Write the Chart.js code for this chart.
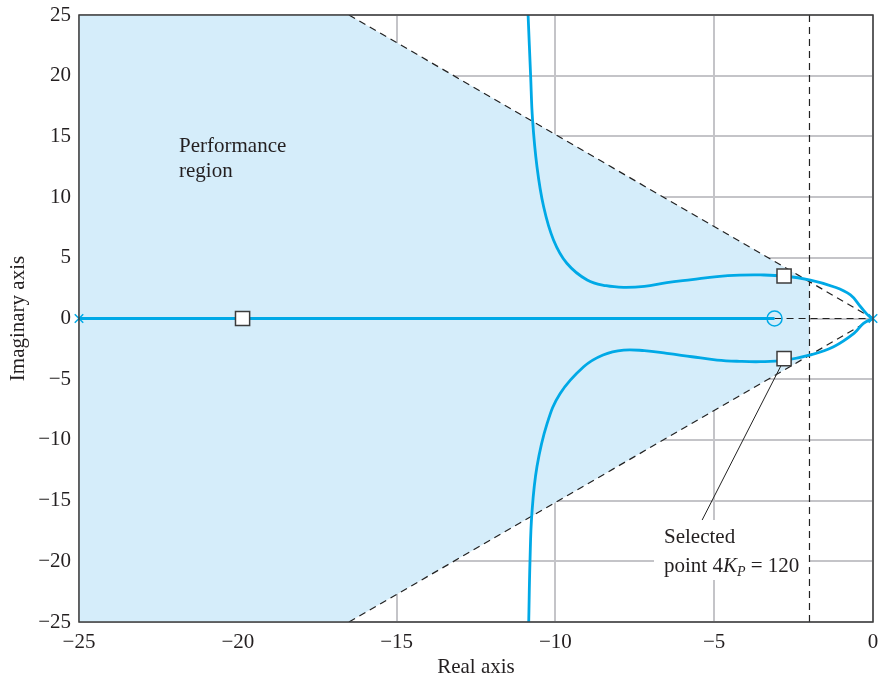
<!DOCTYPE html>
<html>
<head>
<meta charset="utf-8">
<script src="https://cdn.jsdelivr.net/npm/chart.js@4/dist/chart.umd.min.js"></script>
<style>
  html, body { margin: 0; padding: 0; background: #fff; }
  #wrap { width: 881px; height: 682px; }
</style>
</head>
<body>
<div id="wrap"><canvas id="locus"></canvas></div>
<script>
// axis ranges / ticks
const xRange = [-25, 0];
const yRange = [-25, 25];
const tickStep = 5;

// performance region boundary (light blue polygon)
const regionRe = [-25, -16.5, -2, -2, -16.5, -25, -25];
const regionIm = [25, 25, 3.03, -3.03, -25, -25, 25];

// dashed construction lines
const diagUpRe = [-16.5, 0], diagUpIm = [25, 0];
const diagLoRe = [-16.5, 0], diagLoIm = [-25, 0];
const vertRe = [-2, -2], vertIm = [25, -25];
const horizRe = [-3.1, 0], horizIm = [0, 0];

// root locus branches
const realBranchRe = [-25, -3.1], realBranchIm = [0, 0];
const upperRe = [-10.86, -10.78, -10.72, -10.58, -10.37, -10.06, -9.64, -9.0, -8.4, -7.85, -7.2, -6.49, -5.7, -4.91, -4.2, -3.55, -2.8, -1.97, -1.24, -0.71, -0.39, -0.13, 0];
const upperIm = [25, 20, 16.4, 12.5, 9.2, 6.47, 4.55, 3.17, 2.7, 2.57, 2.65, 2.95, 3.2, 3.45, 3.57, 3.59, 3.5, 3.17, 2.62, 1.94, 0.97, 0.2, 0];
const lowerRe = [-10.84, -10.8, -10.74, -10.58, -10.26, -9.85, -9.11, -8.5, -7.85, -7.2, -6.49, -5.7, -4.91, -4.2, -3.55, -2.8, -1.97, -1.24, -0.6, -0.3, 0];
const lowerIm = [-25, -20, -16.06, -12.2, -8.64, -6.17, -3.97, -3.0, -2.6, -2.65, -2.87, -3.15, -3.42, -3.53, -3.56, -3.45, -3.0, -2.32, -1.22, -0.4, 0];

// markers
const poleRe = [-25, 0], poleIm = [0, 0];
const zeroRe = [-3.1], zeroIm = [0];
const selRe = [-19.85, -2.8, -2.8], selIm = [0, 3.5, -3.3];

// leader line to the selected point
const leaderRe = [-5.38, -2.88], leaderIm = [-16.6, -3.8];

function pts(xs, ys) {
    return xs.map(function (x, i) { return {x: x, y: ys[i]}; });
}

const blue = '#00a9e6';
const ink = '#231f20';
const serif = 'Liberation Serif, Times New Roman, serif';
const dash = [7, 5];

function fmt(v) {
    return v < 0 ? '\u2212' + Math.abs(v) : String(v);
}

function noPad(s) {
    s.paddingLeft = 0; s.paddingRight = 0; s.paddingTop = 0; s.paddingBottom = 0;
}

const frame = {
    id: 'frame',
    beforeDatasetsDraw(chart) {
        const c = chart.ctx;
        // white box behind the annotation text
        c.save();
        c.fillStyle = '#fff';
        c.fillRect(654, 520, 156, 60);
        c.restore();
    },
    afterDraw(chart) {
        const c = chart.ctx;
        const a = chart.chartArea;
        c.save();
        c.strokeStyle = '#3c3c3c';
        c.lineWidth = 1.5;
        c.strokeRect(a.left, a.top, a.right - a.left, a.bottom - a.top);

        c.fillStyle = ink;
        c.textBaseline = 'alphabetic';
        c.font = '21px ' + serif;
        c.fillText('Performance', 179, 152);
        c.fillText('region', 179, 177);

        c.fillText('Selected', 664, 543);
        let px = 664;
        const base = 572;
        c.fillText('point 4', px, base);
        px += c.measureText('point 4').width;
        c.font = 'italic 21px ' + serif;
        c.fillText('K', px, base);
        px += c.measureText('K').width;
        c.font = 'italic 14px ' + serif;
        c.fillText('P', px, base + 4);
        px += c.measureText('P').width;
        c.font = '21px ' + serif;
        c.fillText(' = 120', px, base);
        c.restore();
    }
};

function lineSet(data, color, width, dashed, order, extra) {
    return Object.assign({
        data: data,
        showLine: true,
        borderColor: color,
        borderWidth: width,
        borderDash: dashed ? dash : [],
        pointRadius: 0,
        fill: false,
        order: order
    }, extra || {});
}

new Chart(document.getElementById('locus'), {
    type: 'scatter',
    data: {
        datasets: [
            lineSet(pts(regionRe, regionIm), 'rgba(0,0,0,0)', 0, false, 20,
                {fill: 'shape', backgroundColor: '#d5edfa', tension: 0}),
            lineSet(pts(diagUpRe, diagUpIm), '#222', 1.2, true, 10),
            lineSet(pts(diagLoRe, diagLoIm), '#222', 1.2, true, 10),
            lineSet(pts(vertRe, vertIm), '#222', 1.2, true, 10),
            lineSet(pts(horizRe, horizIm), '#222', 1.2, true, 10),
            lineSet(pts(leaderRe, leaderIm), '#222', 1, false, 9),
            lineSet(pts(realBranchRe, realBranchIm), blue, 2.8, false, 5),
            lineSet(pts(upperRe, upperIm), blue, 2.8, false, 5, {tension: 0.4}),
            lineSet(pts(lowerRe, lowerIm), blue, 2.8, false, 5, {tension: 0.4}),
            {
                data: pts(zeroRe, zeroIm),
                pointStyle: 'circle', pointRadius: 7.5,
                pointBorderColor: blue, pointBackgroundColor: 'rgba(0,0,0,0)',
                pointBorderWidth: 1.5, order: 3
            },
            {
                data: pts(poleRe, poleIm),
                pointStyle: 'crossRot', pointRadius: 6,
                pointBorderColor: blue, pointBorderWidth: 1.5,
                clip: false, order: 2
            },
            {
                data: pts(selRe, selIm),
                pointStyle: 'rect', pointRadius: 10,
                pointBorderColor: '#3c3c3c', pointBackgroundColor: '#fff',
                pointBorderWidth: 1.5, clip: false, order: 1
            }
        ]
    },
    options: {
        responsive: true,
        maintainAspectRatio: false,
        animation: false,
        layout: {autoPadding: false, padding: {top: 15, right: 8, left: 0, bottom: 0}},
        plugins: {
            legend: {display: false},
            tooltip: {enabled: false}
        },
        scales: {
            x: {
                type: 'linear',
                min: xRange[0], max: xRange[1],
                ticks: {stepSize: tickStep, color: ink, padding: 8, font: {family: serif, size: 21}, callback: fmt},
                grid: {color: '#c4c4c8', lineWidth: 2, drawTicks: false},
                border: {display: false},
                title: {display: true, text: 'Real axis', color: ink, font: {family: serif, size: 21}, padding: {top: 4, bottom: 2}},
                afterFit: function (s) { s.height = 60; noPad(s); }
            },
            y: {
                type: 'linear',
                min: yRange[0], max: yRange[1],
                ticks: {stepSize: tickStep, color: ink, padding: 8, font: {family: serif, size: 21}, callback: fmt},
                grid: {color: '#c4c4c8', lineWidth: 2, drawTicks: false},
                border: {display: false},
                title: {display: true, text: 'Imaginary axis', color: ink, font: {family: serif, size: 21}, padding: {top: 6, bottom: 0}},
                afterFit: function (s) { s.width = 79; noPad(s); }
            }
        }
    },
    plugins: [frame]
});
</script>
</body>
</html>
